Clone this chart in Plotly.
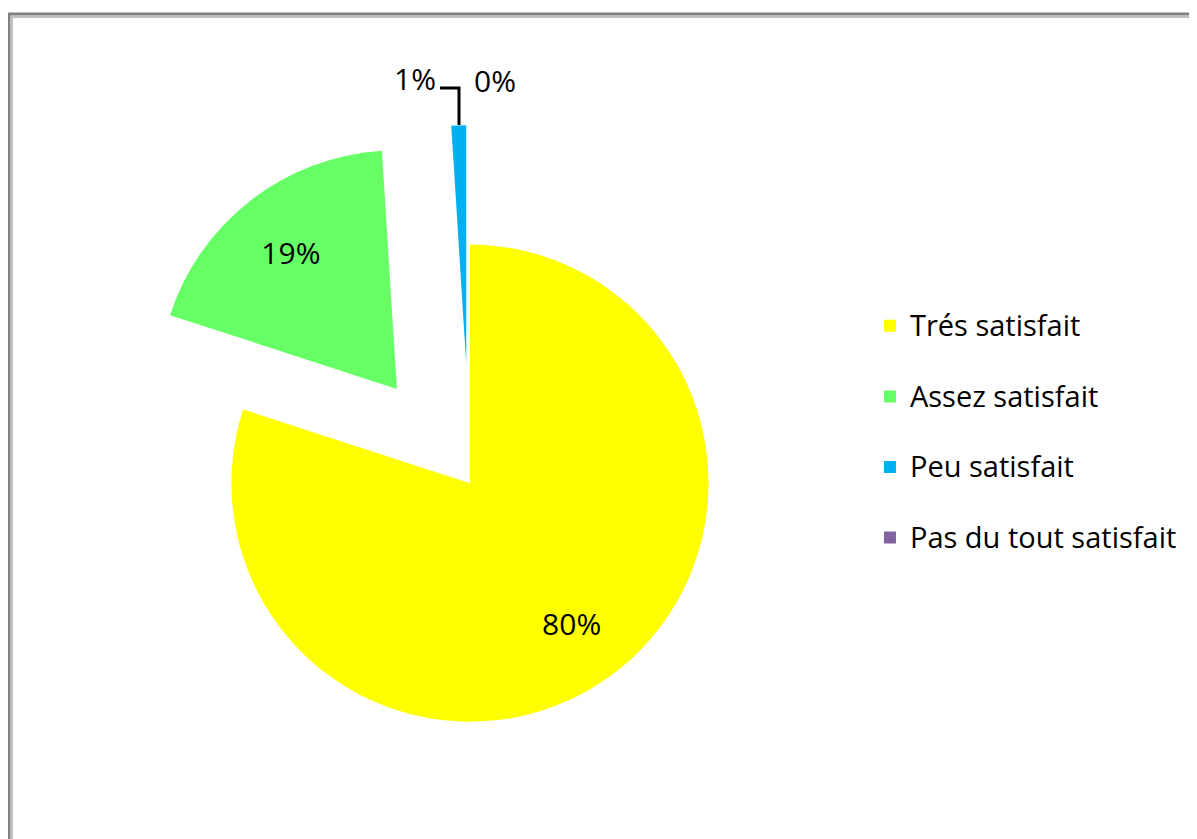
import plotly.graph_objects as go

labels = ['Trés satisfait', 'Assez satisfait', 'Peu satisfait', 'Pas du tout satisfait']
values = [80, 19, 1, 0]
colors = ['#FFFF00', '#66FF66', '#00B0F0', '#8064A2']
pulls = [0, 0.5, 0.5, 0.5]

W, H = 1197, 839
FONT = 'Open Sans'
total = sum(values)
pct = [f'{round(100 * v / total)}%' for v in values]

# legend: slightly bigger glyphs, and a blank second line for the wide row spacing
legend_labels = [f"<span style='font-size:29px'>{l}</span><br> " for l in labels]

domain = dict(x=[0.0869, 0.6850], y=[0.0072, 0.8602])

fig = go.Figure()

# the slices
fig.add_trace(go.Pie(
    labels=legend_labels,
    values=values,
    marker=dict(colors=colors, line=dict(width=0)),
    pull=pulls,
    sort=False,
    direction='clockwise',
    rotation=0,
    textinfo='none',
    domain=domain,
    hoverinfo='label+percent',
))

# same pie again, transparent, only to push the inside labels out towards the rim
fig.add_trace(go.Pie(
    labels=legend_labels,
    values=values,
    marker=dict(colors=['rgba(0,0,0,0)'] * 4, line=dict(width=0)),
    pull=pulls,
    hole=0.45,
    sort=False,
    direction='clockwise',
    rotation=0,
    texttemplate='%{percent:.0%}',
    textposition=['inside', 'inside', 'none', 'none'],
    textfont=dict(color='black', size=30, family=FONT),
    insidetextorientation='horizontal',
    domain=domain,
    showlegend=False,
    hoverinfo='skip',
))

# small slices: labels above the exploded sliver, with a leader line
fig.add_annotation(x=407 / W, y=1 - 70 / H, xref='paper', yref='paper',
                   xanchor='center', yanchor='middle',
                   text=pct[2], showarrow=False,
                   font=dict(size=30, family=FONT, color='black'))
fig.add_annotation(x=487 / W, y=1 - 72 / H, xref='paper', yref='paper',
                   xanchor='center', yanchor='middle',
                   text=pct[3], showarrow=False,
                   font=dict(size=30, family=FONT, color='black'))
fig.add_shape(type='path', xref='paper', yref='paper',
              path=f'M {451 / W},{1 - 117 / H} L {451 / W},{1 - 80 / H} L {432 / W},{1 - 80 / H}',
              line=dict(color='black', width=3))

# chart frame (double grey line like the spreadsheet export)
fig.add_shape(type='rect', xref='paper', yref='paper',
              x0=1 / W, x1=1.05, y0=-0.05, y1=1 - 6 / H,
              line=dict(color='#7F7F7F', width=3))
fig.add_shape(type='rect', xref='paper', yref='paper',
              x0=4 / W, x1=1.05, y0=-0.05, y1=1 - 9 / H,
              line=dict(color='#BFBFBF', width=2))

fig.update_layout(
    width=W, height=H,
    margin=dict(l=0, r=0, t=0, b=0, autoexpand=False),
    paper_bgcolor='white',
    plot_bgcolor='white',
    font=dict(family=FONT, size=26, color='black'),
    legend=dict(
        x=0.7201, y=0.4745, xanchor='left', yanchor='middle',
        font=dict(size=26, family=FONT, color='black'),
        valign='top',
        bgcolor='rgba(0,0,0,0)',
    ),
    showlegend=True,
)

fig.write_html('out.html')
